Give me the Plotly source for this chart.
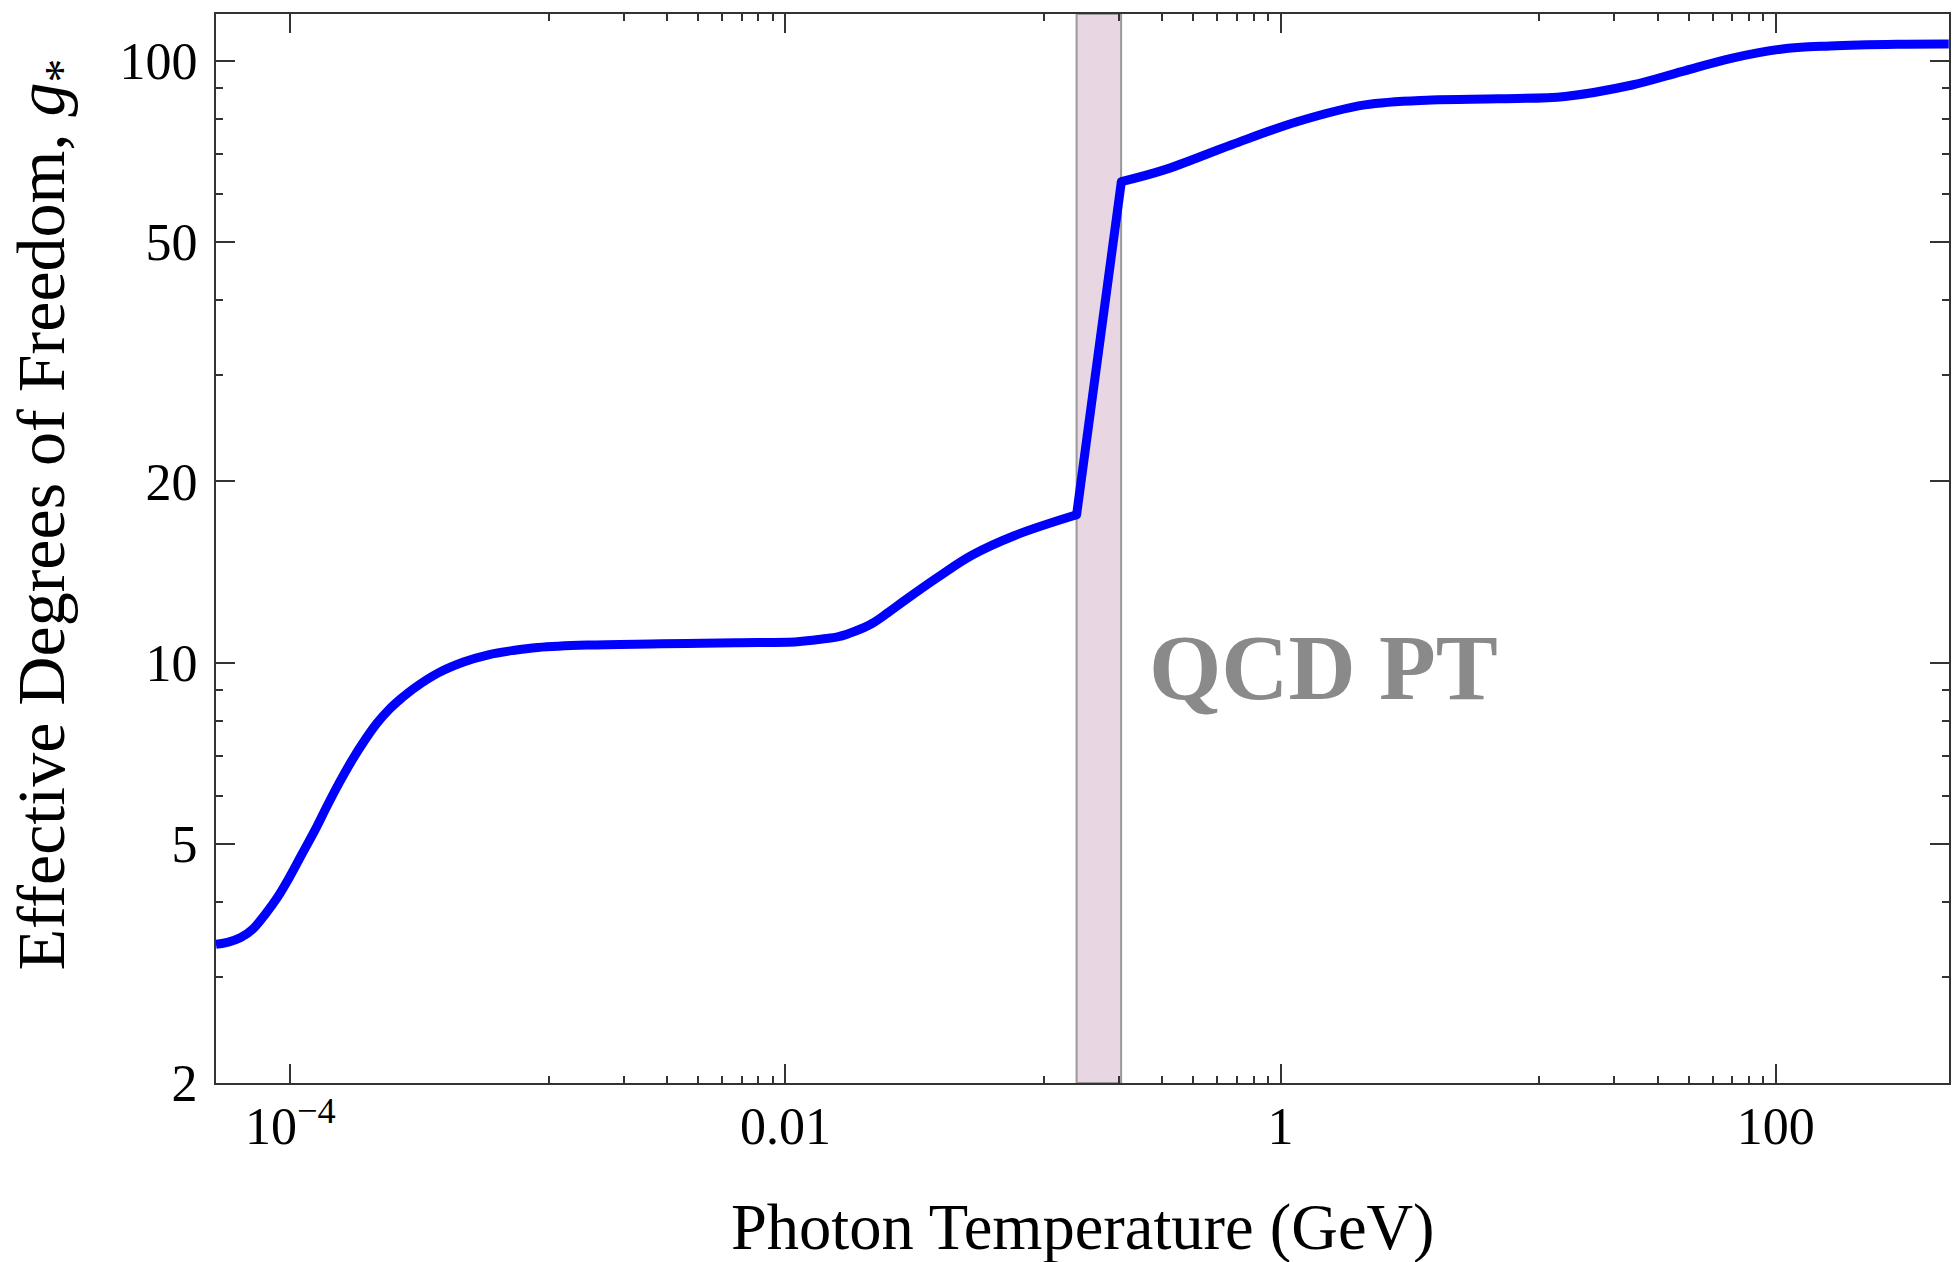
import plotly.graph_objects as go

# ---- data (photon temperature in GeV, g_*) ----
T_low = [5.01e-05, 5.62e-05, 6.31e-05, 7.08e-05, 7.94e-05, 8.91e-05, 1.00e-04, 1.12e-04,
         1.26e-04, 1.41e-04, 1.58e-04, 1.78e-04, 2.00e-04, 2.24e-04, 2.51e-04, 2.82e-04,
         3.16e-04, 3.98e-04, 5.01e-04, 6.31e-04, 7.94e-04, 1.00e-03, 1.58e-03, 3.16e-03,
         6.31e-03, 1.12e-02, 1.41e-02, 1.64e-02, 1.91e-02, 2.23e-02, 2.60e-02, 3.04e-02,
         4.14e-02, 5.64e-02, 8.45e-02, 0.150]
g_low = [3.40, 3.43, 3.49, 3.61, 3.82, 4.08, 4.42, 4.82,
         5.27, 5.78, 6.32, 6.89, 7.43, 7.93, 8.36, 8.73,
         9.06, 9.62, 10.02, 10.30, 10.47, 10.59, 10.69, 10.74,
         10.79, 10.83, 10.94, 11.04, 11.27, 11.60, 12.11, 12.69,
         13.87, 15.06, 16.26, 17.60]

T_jump = [0.150, 0.2275]
g_jump = [17.60, 63.0]

T_high = [0.2275, 0.339, 0.631, 1.175, 2.19, 4.07, 7.59, 14.1,
          26.3, 41.7, 66.1, 104.7, 166.0, 309.0, 500.0]
g_high = [63.0, 65.9, 72.5, 79.3, 84.5, 86.1, 86.5, 87.3,
          91.2, 96.0, 101.0, 104.6, 105.9, 106.6, 106.7]

qcd_band = [0.150, 0.227]

x_major = [1e-4, 1e-2, 1, 100]
x_major_text = ["10<sup>\u22124</sup>", "0.01", "1", "100"]
x_minor = [k / 9 * d for d in (1e-2, 1.0, 100.0) for k in range(1, 9)]
y_major = [2, 5, 10, 20, 50, 100]
y_major_text = ["2", "5", "10", "20", "50", "100"]
y_minor = [3, 4, 6, 7, 8, 9, 30, 40, 60, 70, 80, 90]

FONT = "Liberation Serif, Times New Roman, serif"
BLUE = "#0000FF"
LW = 9

fig = go.Figure()
for xs, ys, shape in ((T_low, g_low, "spline"), (T_jump, g_jump, "linear"), (T_high, g_high, "spline")):
    line = dict(color=BLUE, width=LW, shape=shape)
    if shape == "spline":
        line["smoothing"] = 1.0
    fig.add_trace(go.Scatter(x=xs, y=ys, mode="lines", line=line, showlegend=False, hoverinfo="skip"))
# round off the two corners of the jump
fig.add_trace(go.Scatter(x=[T_jump[0], T_jump[1]], y=[g_jump[0], g_jump[1]], mode="markers",
                         marker=dict(color=BLUE, size=LW), showlegend=False, hoverinfo="skip"))
# helper trace for mirrored top/right axes
fig.add_trace(go.Scatter(x=[], y=[], xaxis="x2", yaxis="y2", showlegend=False))

xr = [-4.3, 2.7]
yr = [0.30103, 2.078]

common_tick = dict(ticks="inside", ticklen=19, tickwidth=2, tickcolor="#333333")
minor_x = dict(tickmode="array", tickvals=x_minor, ticks="inside", ticklen=7, tickwidth=2,
               tickcolor="#333333", showgrid=False)
minor_y = dict(tickmode="array", tickvals=y_minor, ticks="inside", ticklen=7, tickwidth=2,
               tickcolor="#333333", showgrid=False)

fig.update_layout(
    width=1954, height=1262,
    margin=dict(l=216, r=3, t=14, b=179),
    paper_bgcolor="white", plot_bgcolor="white",
    font=dict(family=FONT, size=52, color="black"),
    xaxis=dict(type="log", range=xr, tickmode="array", tickvals=x_major, ticktext=x_major_text,
               showgrid=False, zeroline=False, showline=True, mirror=True, linecolor="#333333",
               linewidth=2, tickfont=dict(family=FONT, size=52, color="black"),
               ticklabelstandoff=-3, minor=minor_x, **common_tick),
    yaxis=dict(type="log", range=yr, tickmode="array", tickvals=y_major, ticktext=y_major_text,
               showgrid=False, zeroline=False, showline=True, mirror=True, linecolor="#333333",
               linewidth=2, tickfont=dict(family=FONT, size=52, color="black"),
               ticklabelstandoff=6, minor=minor_y, **common_tick),
    xaxis2=dict(type="log", range=xr, overlaying="x", side="top", anchor="y", tickmode="array",
                tickvals=x_major, showticklabels=False, showgrid=False, zeroline=False,
                showline=False, minor=minor_x, **common_tick),
    yaxis2=dict(type="log", range=yr, overlaying="y", side="right", anchor="x", tickmode="array",
                tickvals=y_major, showticklabels=False, showgrid=False, zeroline=False,
                showline=False, minor=minor_y, **common_tick),
    shapes=[dict(type="rect", xref="x", yref="paper", x0=qcd_band[0], x1=qcd_band[1], y0=0, y1=1,
                 fillcolor="#E8D6E2", line=dict(color="#999999", width=2), layer="below")],
    annotations=[
        dict(text="QCD PT", xref="paper", yref="paper", x=0.6392, y=0.3885, xanchor="center",
             yanchor="middle", showarrow=False,
             font=dict(family=FONT, size=93, color="#8A8A8A", weight="bold")),
        dict(text="Photon Temperature (GeV)", xref="paper", yref="paper", x=0.5003, y=-0.1356,
             xanchor="center", yanchor="middle", showarrow=False,
             font=dict(family=FONT, size=64.5, color="black")),
        dict(text="Effective Degrees of Freedom, <i>g</i><sub>*</sub>", xref="paper", yref="paper",
             x=-0.0985, y=0.532, xanchor="center", yanchor="middle", textangle=-90, showarrow=False,
             font=dict(family=FONT, size=68, color="black")),
    ],
)

fig.write_html("out.html")
